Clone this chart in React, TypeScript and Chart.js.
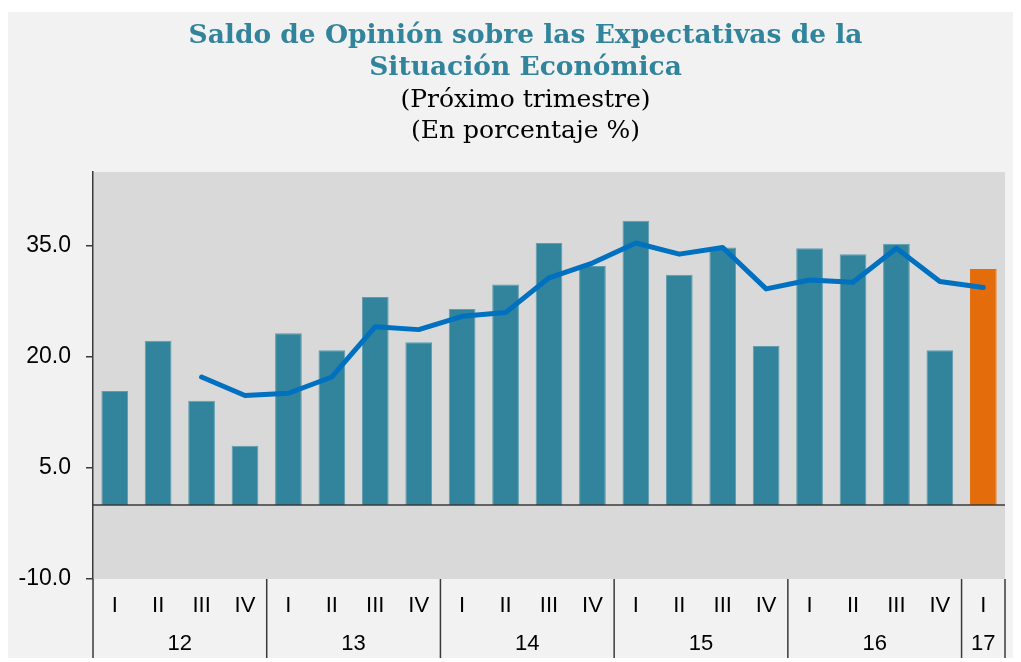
import React, { useEffect, useRef } from "react";
import { Chart, registerables } from "chart.js";

Chart.register(...registerables);

const TITLE_LINES = ["Saldo de Opinión sobre las Expectativas de la", "Situación Económica"];
const SUBTITLE_LINES = ["(Próximo trimestre)", "(En porcentaje %)"];
const QUARTERS = ["I", "II", "III", "IV", "I", "II", "III", "IV", "I", "II", "III", "IV", "I", "II", "III", "IV", "I", "II", "III", "IV", "I"];
const YEARS = ["12", "13", "14", "15", "16", "17"];
const YEAR_SPANS = [4, 4, 4, 4, 4, 1];
const BAR_VALUES = [15.4, 22.2, 14.1, 8.0, 23.2, 20.9, 28.1, 22.0, 26.5, 29.8, 35.4, 32.3, 38.4, 31.1, 34.8, 21.5, 34.7, 33.9, 35.3, 20.9, 31.9];
const LINE_VALUES = [null, null, 17.3, 14.8, 15.1, 17.3, 24.1, 23.7, 25.5, 26.0, 30.7, 32.7, 35.4, 33.9, 34.8, 29.2, 30.4, 30.1, 34.7, 30.2, 29.4];
const Y_TICKS = [-10, 5, 20, 35];
const Y_MIN = -10;
const Y_MAX = 45;

const TEAL = "#31849B";
const ORANGE = "#E46C0A";
const LINE_BLUE = "#0070C0";

const decorPlugin = {
  id: "decor",
  beforeDraw(chart: any) {
    const { ctx, chartArea: a } = chart;
    ctx.save();
    ctx.fillStyle = "#d9d9d9";
    ctx.fillRect(a.left, a.top, a.right - a.left, a.bottom - a.top);
    ctx.restore();
  },
  afterDatasetsDraw(chart: any) {
    const { ctx, chartArea: a, scales } = chart;
    const y0 = scales.y.getPixelForValue(0);
    ctx.save();
    ctx.strokeStyle = "#3a3a3a";
    ctx.lineWidth = 1.5;
    ctx.beginPath();
    ctx.moveTo(a.left, y0);
    ctx.lineTo(a.right, y0);
    ctx.stroke();
    ctx.restore();
  },
  afterDraw(chart: any) {
    const { ctx, chartArea: a, scales, width } = chart;
    const x = scales.x;
    ctx.save();
    // titles
    ctx.textAlign = "center";
    ctx.textBaseline = "middle";
    const cx = width / 2 + 11;
    ctx.fillStyle = TEAL;
    ctx.font = "bold 26.5px 'DejaVu Serif'";
    TITLE_LINES.forEach((t, i) => ctx.fillText(t, cx, 24 + i * 32));
    ctx.fillStyle = "#000";
    ctx.font = "25px 'DejaVu Serif'";
    SUBTITLE_LINES.forEach((t, i) => ctx.fillText(t, cx, 88 + i * 31));

    // dividers and years
    const half = (x.getPixelForValue(1) - x.getPixelForValue(0)) / 2;
    const bottom = 646;
    ctx.strokeStyle = "#3a3a3a";
    ctx.lineWidth = 1.5;
    let idx = 0;
    const bounds: number[] = [a.left];
    YEAR_SPANS.forEach((span) => {
      idx += span;
      bounds.push(idx >= QUARTERS.length ? a.right : x.getPixelForValue(idx - 1) + half);
    });
    bounds.forEach((bx) => {
      ctx.beginPath();
      ctx.moveTo(bx, a.bottom);
      ctx.lineTo(bx, bottom);
      ctx.stroke();
    });
    ctx.fillStyle = "#000";
    ctx.font = "22px 'Liberation Sans'";
    YEARS.forEach((yr, i) => {
      ctx.fillText(yr, (bounds[i] + bounds[i + 1]) / 2, 632);
    });
    ctx.restore();
  },
};

export default function App() {
  const ref = useRef<HTMLCanvasElement | null>(null);
  useEffect(() => {
    if (!ref.current) return;
    const chart = new Chart(ref.current, {
      type: "bar",
      data: {
        labels: QUARTERS,
        datasets: [
          {
            type: "line",
            data: LINE_VALUES as any,
            borderColor: LINE_BLUE,
            borderWidth: 5,
            pointRadius: 0,
            tension: 0,
            borderCapStyle: "round",
            borderJoinStyle: "round",
            spanGaps: false,
            order: 0,
          } as any,
          {
            type: "bar",
            data: BAR_VALUES,
            backgroundColor: BAR_VALUES.map((_, i) => (i === BAR_VALUES.length - 1 ? ORANGE : TEAL)),
            borderColor: BAR_VALUES.map((_, i) => (i === BAR_VALUES.length - 1 ? ORANGE : "#5e9db0")),
            borderWidth: 1,
            barPercentage: 0.615,
            categoryPercentage: 1,
            order: 1,
          } as any,
        ],
      },
      options: {
        animation: false,
        responsive: true,
        maintainAspectRatio: false,
        layout: { padding: { top: 160, right: 16, bottom: 0, left: 0 } },
        plugins: { legend: { display: false }, tooltip: { enabled: false }, title: { display: false } },
        scales: {
          x: {
            grid: { display: false, drawTicks: false },
            border: { display: false },
            ticks: {
              color: "#000",
              font: { family: "Liberation Sans", size: 22 },
              padding: 14,
              maxRotation: 0,
              autoSkip: false,
            },
            afterFit(scale: any) {
              scale.height = 83;
            },
          },
          y: {
            min: Y_MIN,
            max: Y_MAX,
            grid: { display: true, drawOnChartArea: false, drawTicks: true, tickLength: 7, color: "#3a3a3a", lineWidth: 1.5 },
            border: { display: true, color: "#3a3a3a", width: 1.5 },
            ticks: {
              color: "#000",
              font: { family: "Liberation Sans", size: 23 },
              padding: 15,
              callback: (v: any) => Number(v).toFixed(1),
            },
            afterBuildTicks(scale: any) {
              scale.ticks = Y_TICKS.map((v) => ({ value: v }));
            },
            afterFit(scale: any) {
              scale.width = 85;
            },
          },
        },
      },
      plugins: [decorPlugin],
    });
    return () => chart.destroy();
  }, []);
  return (
    <div style={{ position: "relative", top: 4, width: 1013, height: 650, background: "#f2f2f2" }}>
      <canvas ref={ref} />
    </div>
  );
}
